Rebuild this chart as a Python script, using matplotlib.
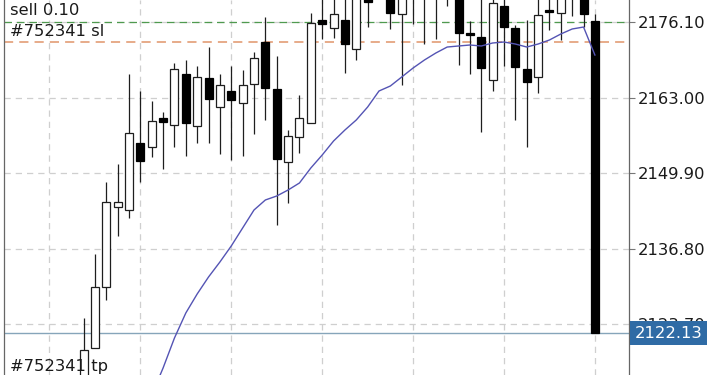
import numpy as np
import matplotlib
matplotlib.use("Agg")
import matplotlib.pyplot as plt

plt.rcParams["font.family"] = ["DejaVu Sans"]

# ── candle data (bar index 0..45, prices) ─────────────────────────
opens = [2113.12, 2119.54, 2130.12, 2144.00, 2143.48, 2155.11, 2154.41, 2159.44,
         2158.23, 2167.08, 2158.06, 2166.38, 2161.35, 2164.13, 2162.05, 2165.34,
         2172.63, 2164.48, 2151.81, 2156.15, 2158.58, 2176.45, 2175.06, 2176.45,
         2171.42, 2180.20, 2181.50, 2182.50, 2177.49, 2181.50, 2182.00, 2181.80,
         2181.20, 2181.00, 2174.10, 2173.50, 2166.04, 2178.88, 2175.06, 2167.95,
         2166.56, 2178.18, 2177.66, 2180.60, 2180.50, 2176.27]
highs = [2124.74, 2135.85, 2148.34, 2151.46, 2167.08, 2164.13, 2162.39, 2160.48,
         2168.99, 2169.51, 2168.47, 2171.76, 2167.08, 2168.47, 2167.77, 2170.89,
         2176.97, 2170.20, 2157.36, 2163.43, 2177.66, 2181.30, 2181.00, 2182.00,
         2183.00, 2183.50, 2184.50, 2184.00, 2184.00, 2185.00, 2183.50, 2183.00,
         2183.00, 2183.00, 2176.27, 2180.50, 2180.50, 2180.50, 2175.58, 2176.45,
         2180.30, 2180.50, 2181.50, 2182.00, 2181.50, 2177.49]
lows = [2112.25, 2119.54, 2127.87, 2138.97, 2142.09, 2148.34, 2152.68, 2150.60,
        2154.41, 2152.85, 2155.11, 2155.11, 2153.20, 2152.16, 2152.85, 2156.67,
        2159.10, 2140.88, 2144.70, 2153.37, 2158.58, 2173.15, 2173.32, 2167.25,
        2169.51, 2175.23, 2180.30, 2174.89, 2165.17, 2175.75, 2172.28, 2173.15,
        2178.88, 2168.64, 2167.08, 2157.01, 2164.13, 2168.47, 2159.10, 2154.41,
        2163.78, 2174.71, 2172.98, 2177.14, 2175.23, 2122.13]
closes = [2119.19, 2130.12, 2144.87, 2144.87, 2156.84, 2151.98, 2158.92, 2158.75,
          2167.95, 2158.58, 2166.56, 2162.74, 2165.17, 2162.57, 2165.17, 2169.85,
          2164.65, 2152.33, 2156.32, 2159.44, 2175.93, 2175.75, 2177.49, 2172.28,
          2181.50, 2179.57, 2183.00, 2177.66, 2182.00, 2183.00, 2181.00, 2182.40,
          2182.20, 2174.19, 2173.90, 2168.12, 2179.40, 2175.23, 2168.29, 2165.69,
          2177.31, 2177.84, 2180.80, 2181.30, 2177.49, 2122.13]

# moving average, from bar 6 on
ma_start = 6
ma = [2111.38, 2116.07, 2121.27, 2125.61, 2128.91, 2131.86, 2134.46, 2137.24,
      2140.36, 2143.48, 2145.22, 2145.91, 2146.95, 2148.17, 2150.77, 2153.02,
      2155.45, 2157.36, 2159.10, 2161.35, 2164.13, 2165.00, 2166.56, 2168.12,
      2169.51, 2170.72, 2171.76, 2171.94, 2172.11, 2171.94, 2172.46, 2172.63,
      2172.28, 2171.76, 2172.28, 2172.98, 2174.02, 2174.89, 2175.23, 2170.37]

# levels
sell_price = 2176.10
sl_price = 2172.60
last_price = 2122.13
price_ticks = [2176.10, 2163.00, 2149.90, 2136.80, 2123.70]
grid_bars = [-3, 5, 13, 21, 29, 37, 45]

fig = plt.figure(figsize=(7.1, 3.75), dpi=100)
ax = fig.add_axes([4 / 710, 0, 625 / 710, 1])

x = np.arange(len(opens))
o = np.array(opens); h = np.array(highs); l = np.array(lows); c = np.array(closes)
up = c >= o

# wicks
ax.vlines(x, l, h, color="#1e1e1e", lw=0.9, zorder=3)
# bodies
body_lo = np.minimum(o, c)
body_hi = np.maximum(np.abs(c - o), 0.25)
ax.bar(x[up], body_hi[up], bottom=body_lo[up], width=0.7,
       color="white", edgecolor="#1e1e1e", linewidth=0.9, zorder=4)
ax.bar(x[~up], body_hi[~up], bottom=body_lo[~up], width=0.7,
       color="black", edgecolor="black", linewidth=0.9, zorder=4)

# moving average
ax.plot(np.arange(ma_start, ma_start + len(ma)), ma, color="#5454b4", lw=1.0, zorder=5)

# order levels
ax.axhline(sell_price, color="#4f9a4f", lw=0.9, ls=(0, (6, 4)), zorder=2)
ax.axhline(sl_price, color="#e0946a", lw=1.1, ls=(0, (6, 4)), zorder=2)
ax.axhline(last_price, color="#86a5ba", lw=1.0, zorder=2)

lab = dict(fontsize=11.8, color="#1a1a1a", ha="left", zorder=6)
ax.annotate("sell 0.10", xy=(0, sell_price), xycoords=("axes fraction", "data"),
            xytext=(6, 4), textcoords="offset pixels", va="bottom", **lab)
ax.annotate("#752341 sl", xy=(0, sl_price), xycoords=("axes fraction", "data"),
            xytext=(6, 3), textcoords="offset pixels", va="bottom", **lab)
ax.annotate("#752341 tp", xy=(0, 0), xycoords="axes fraction",
            xytext=(6, 1), textcoords="offset pixels", va="bottom", **lab)

# axes
ax.set_xlim(-7, 48)
ax.set_ylim(2114.85, 2179.92)
ax.set_xticks(grid_bars)
ax.set_yticks(price_ticks, [f"{p:.2f}" for p in price_ticks])
ax.tick_params(axis="x", length=0, labelbottom=False)
ax.yaxis.tick_right()
ax.tick_params(axis="y", length=4, width=0.8, color="#777", pad=2,
               labelsize=11.8, labelcolor="#1a1a1a")
ax.grid(True, color="#cfcfcf", lw=0.9, ls=(0, (5, 4)), zorder=0)
ax.set_axisbelow(True)
for s in ("top", "bottom"):
    ax.spines[s].set_visible(False)
for s in ("left", "right"):
    ax.spines[s].set_color("#666")
    ax.spines[s].set_linewidth(0.9)

# current price box (covers the lowest tick label, as in the app)
ax.annotate(f"{last_price:.2f}", xy=(1, last_price), xycoords=("axes fraction", "data"),
            xytext=(6, 0), textcoords="offset pixels", va="center", ha="left",
            fontsize=11.8, color="white", zorder=10, annotation_clip=False,
            bbox=dict(boxstyle="square,pad=0.28", fc="#2f6ba5", ec="none"))

fig.savefig("out.png", dpi=100)
